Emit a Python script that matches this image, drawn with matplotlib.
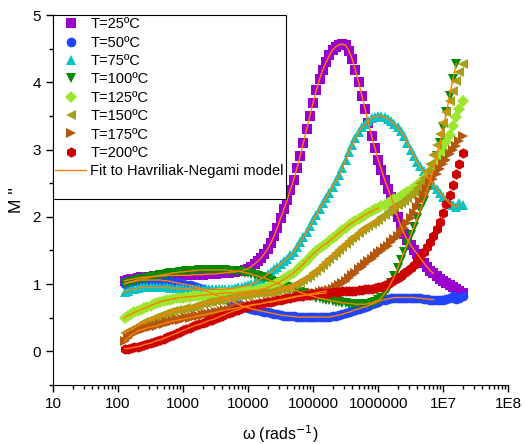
import matplotlib
matplotlib.use("Agg")
import matplotlib.pyplot as plt
from matplotlib.lines import Line2D
from matplotlib.ticker import FixedLocator, FixedFormatter, LogLocator, MultipleLocator, NullFormatter
import numpy as np

plt.rcParams['font.family'] = ['Liberation Sans', 'DejaVu Sans']

# log10 of angular frequency (rad/s) of the measured points
log_omega = [2.10, 2.15, 2.20, 2.25, 2.30, 2.35, 2.40, 2.45, 2.50, 2.55,
             2.60, 2.65, 2.70, 2.75, 2.80, 2.85, 2.90, 2.95, 3.00, 3.05,
             3.10, 3.15, 3.20, 3.25, 3.30, 3.35, 3.40, 3.45, 3.50, 3.55,
             3.60, 3.65, 3.70, 3.75, 3.80, 3.85, 3.90, 3.95, 4.00, 4.05,
             4.10, 4.15, 4.20, 4.25, 4.30, 4.35, 4.40, 4.45, 4.50, 4.55,
             4.60, 4.65, 4.70, 4.75, 4.80, 4.85, 4.90, 4.95, 5.00, 5.05,
             5.10, 5.15, 5.20, 5.25, 5.30, 5.35, 5.40, 5.45, 5.50, 5.55,
             5.60, 5.65, 5.70, 5.75, 5.80, 5.85, 5.90, 5.95, 6.00, 6.05,
             6.10, 6.15, 6.20, 6.25, 6.30, 6.35, 6.40, 6.45, 6.50, 6.55,
             6.60, 6.65, 6.70, 6.75, 6.80, 6.85, 6.90, 6.95, 7.00, 7.05,
             7.10, 7.15, 7.20, 7.25, 7.30]

# M'' for each temperature
m_25 = [1.05, 1.06, 1.07, 1.08, 1.09, 1.10, 1.10, 1.11, 1.11, 1.12,
        1.12, 1.12, 1.12, 1.13, 1.13, 1.13, 1.13, 1.13, 1.13, 1.13,
        1.13, 1.14, 1.14, 1.14, 1.14, 1.15, 1.15, 1.15, 1.15, 1.16,
        1.16, 1.17, 1.17, 1.18, 1.18, 1.19, 1.19, 1.21, 1.23, 1.26,
        1.30, 1.34, 1.39, 1.45, 1.52, 1.61, 1.72, 1.84, 1.98, 2.11,
        2.25, 2.40, 2.55, 2.72, 2.90, 3.10, 3.30, 3.50, 3.70, 3.88,
        4.05, 4.19, 4.30, 4.40, 4.48, 4.53, 4.56, 4.57, 4.55, 4.47,
        4.35, 4.18, 4.00, 3.80, 3.60, 3.40, 3.20, 3.02, 2.85, 2.70,
        2.55, 2.42, 2.30, 2.15, 2.00, 1.87, 1.75, 1.66, 1.58, 1.51,
        1.45, 1.38, 1.32, 1.26, 1.20, 1.16, 1.12, 1.08, 1.05, 1.01,
        0.98, 0.95, 0.92, 0.89, 0.87]
m_50 = [1.00, 1.02, 1.03, 1.04, 1.05, 1.06, 1.06, 1.06, 1.06, 1.06,
        1.06, 1.06, 1.05, 1.05, 1.04, 1.03, 1.02, 1.01, 1.00, 0.99,
        0.98, 0.97, 0.95, 0.94, 0.92, 0.90, 0.88, 0.86, 0.84, 0.82,
        0.80, 0.78, 0.76, 0.74, 0.72, 0.70, 0.68, 0.66, 0.65, 0.63,
        0.62, 0.61, 0.60, 0.59, 0.58, 0.57, 0.56, 0.55, 0.54, 0.53,
        0.53, 0.52, 0.52, 0.51, 0.51, 0.51, 0.51, 0.51, 0.51, 0.51,
        0.51, 0.51, 0.51, 0.51, 0.52, 0.53, 0.54, 0.55, 0.57, 0.58,
        0.60, 0.62, 0.63, 0.65, 0.66, 0.68, 0.70, 0.72, 0.74, 0.76,
        0.77, 0.78, 0.79, 0.80, 0.80, 0.80, 0.80, 0.80, 0.80, 0.80,
        0.79, 0.79, 0.78, 0.78, 0.77, 0.77, 0.76, 0.76, 0.76, 0.78,
        0.80, 0.82, 0.78, 0.80, 0.83]
m_75 = [0.88, 0.90, 0.92, 0.93, 0.94, 0.95, 0.95, 0.95, 0.95, 0.95,
        0.95, 0.95, 0.95, 0.95, 0.94, 0.94, 0.94, 0.93, 0.93, 0.93,
        0.93, 0.92, 0.92, 0.92, 0.92, 0.92, 0.92, 0.92, 0.92, 0.92,
        0.92, 0.92, 0.93, 0.93, 0.94, 0.95, 0.96, 0.97, 0.98, 1.00,
        1.02, 1.05, 1.08, 1.11, 1.15, 1.18, 1.22, 1.26, 1.30, 1.34,
        1.38, 1.43, 1.48, 1.55, 1.62, 1.70, 1.78, 1.86, 1.95, 2.03,
        2.12, 2.20, 2.28, 2.36, 2.45, 2.53, 2.62, 2.73, 2.85, 2.96,
        3.07, 3.17, 3.26, 3.33, 3.38, 3.43, 3.47, 3.49, 3.50, 3.50,
        3.48, 3.46, 3.42, 3.38, 3.33, 3.27, 3.20, 3.10, 3.00, 2.91,
        2.82, 2.75, 2.68, 2.61, 2.55, 2.48, 2.42, 2.36, 2.30, 2.25,
        2.20, 2.17, 2.15, 2.20, 2.18]
m_100 = [1.00, 1.02, 1.03, 1.05, 1.06, 1.07, 1.08, 1.09, 1.10, 1.11,
         1.12, 1.13, 1.14, 1.15, 1.16, 1.17, 1.17, 1.18, 1.18, 1.19,
         1.19, 1.20, 1.20, 1.21, 1.21, 1.21, 1.21, 1.21, 1.21, 1.21,
         1.21, 1.21, 1.20, 1.20, 1.19, 1.19, 1.18, 1.17, 1.16, 1.15,
         1.13, 1.12, 1.10, 1.09, 1.07, 1.05, 1.03, 1.01, 0.99, 0.97,
         0.95, 0.93, 0.92, 0.90, 0.88, 0.86, 0.85, 0.83, 0.82, 0.80,
         0.79, 0.78, 0.77, 0.76, 0.75, 0.74, 0.73, 0.72, 0.72, 0.71,
         0.71, 0.70, 0.70, 0.70, 0.70, 0.71, 0.72, 0.74, 0.76, 0.80,
         0.86, 0.93, 1.02, 1.12, 1.24, 1.36, 1.48, 1.60, 1.73, 1.85,
         1.98, 2.11, 2.24, 2.38, 2.54, 2.71, 2.90, 3.10, 3.33, 3.56,
         3.80, 4.05, 4.28]
m_125 = [0.50, 0.53, 0.55, 0.58, 0.60, 0.62, 0.64, 0.66, 0.68, 0.70,
         0.72, 0.74, 0.75, 0.76, 0.77, 0.78, 0.79, 0.80, 0.80, 0.81,
         0.81, 0.82, 0.82, 0.83, 0.83, 0.84, 0.84, 0.85, 0.85, 0.86,
         0.86, 0.87, 0.87, 0.87, 0.87, 0.88, 0.88, 0.89, 0.89, 0.90,
         0.90, 0.91, 0.92, 0.93, 0.95, 0.97, 0.99, 1.01, 1.04, 1.07,
         1.10, 1.13, 1.17, 1.21, 1.25, 1.30, 1.35, 1.40, 1.45, 1.49,
         1.53, 1.57, 1.60, 1.64, 1.68, 1.72, 1.76, 1.80, 1.84, 1.88,
         1.91, 1.94, 1.97, 2.00, 2.03, 2.06, 2.08, 2.11, 2.13, 2.16,
         2.18, 2.21, 2.23, 2.26, 2.28, 2.31, 2.34, 2.37, 2.40, 2.43,
         2.47, 2.51, 2.56, 2.61, 2.67, 2.74, 2.82, 2.91, 3.00, 3.11,
         3.22, 3.35, 3.48, 3.60, 3.72]
m_150 = [0.27, 0.30, 0.32, 0.35, 0.38, 0.41, 0.43, 0.45, 0.47, 0.49,
         0.51, 0.53, 0.55, 0.57, 0.58, 0.60, 0.61, 0.62, 0.63, 0.64,
         0.65, 0.66, 0.67, 0.69, 0.70, 0.72, 0.73, 0.74, 0.75, 0.76,
         0.77, 0.78, 0.79, 0.80, 0.81, 0.82, 0.83, 0.84, 0.84, 0.85,
         0.85, 0.86, 0.86, 0.87, 0.87, 0.88, 0.89, 0.90, 0.91, 0.93,
         0.94, 0.96, 0.98, 1.00, 1.03, 1.06, 1.09, 1.12, 1.16, 1.20,
         1.24, 1.28, 1.33, 1.37, 1.42, 1.46, 1.51, 1.55, 1.60, 1.64,
         1.68, 1.72, 1.76, 1.80, 1.83, 1.87, 1.90, 1.93, 1.96, 2.00,
         2.03, 2.07, 2.10, 2.14, 2.17, 2.21, 2.24, 2.28, 2.32, 2.37,
         2.43, 2.50, 2.58, 2.68, 2.79, 2.92, 3.07, 3.23, 3.40, 3.56,
         3.72, 3.87, 4.02, 4.15, 4.27]
m_175 = [0.15, 0.20, 0.24, 0.27, 0.30, 0.32, 0.33, 0.35, 0.36, 0.37,
         0.38, 0.40, 0.41, 0.43, 0.44, 0.45, 0.46, 0.47, 0.48, 0.49,
         0.50, 0.51, 0.52, 0.53, 0.54, 0.55, 0.56, 0.57, 0.58, 0.59,
         0.60, 0.61, 0.62, 0.63, 0.64, 0.65, 0.66, 0.67, 0.68, 0.69,
         0.70, 0.70, 0.71, 0.72, 0.73, 0.73, 0.74, 0.75, 0.76, 0.77,
         0.78, 0.79, 0.80, 0.81, 0.82, 0.83, 0.84, 0.85, 0.86, 0.87,
         0.88, 0.89, 0.90, 0.91, 0.93, 0.95, 0.98, 1.01, 1.05, 1.09,
         1.13, 1.17, 1.22, 1.26, 1.30, 1.34, 1.38, 1.42, 1.46, 1.49,
         1.53, 1.57, 1.62, 1.67, 1.72, 1.78, 1.84, 1.91, 1.98, 2.06,
         2.14, 2.23, 2.32, 2.41, 2.50, 2.57, 2.64, 2.71, 2.78, 2.85,
         2.93, 3.00, 3.06, 3.13, 3.20]
m_200 = [0.04, 0.04, 0.05, 0.06, 0.07, 0.08, 0.10, 0.11, 0.12, 0.14,
         0.16, 0.17, 0.19, 0.21, 0.23, 0.25, 0.27, 0.29, 0.31, 0.33,
         0.35, 0.37, 0.39, 0.40, 0.42, 0.44, 0.46, 0.47, 0.49, 0.51,
         0.53, 0.55, 0.57, 0.59, 0.61, 0.62, 0.64, 0.66, 0.67, 0.68,
         0.69, 0.70, 0.71, 0.72, 0.73, 0.74, 0.75, 0.76, 0.77, 0.78,
         0.79, 0.80, 0.81, 0.82, 0.83, 0.83, 0.84, 0.84, 0.85, 0.85,
         0.86, 0.86, 0.87, 0.87, 0.88, 0.88, 0.88, 0.89, 0.89, 0.89,
         0.90, 0.90, 0.91, 0.91, 0.92, 0.92, 0.93, 0.94, 0.95, 0.96,
         0.98, 1.00, 1.03, 1.06, 1.09, 1.12, 1.16, 1.20, 1.24, 1.29,
         1.35, 1.41, 1.48, 1.55, 1.63, 1.72, 1.82, 1.93, 2.05, 2.19,
         2.33, 2.48, 2.63, 2.79, 2.95]

labels = ["T=25ºC", "T=50ºC", "T=75ºC", "T=100ºC",
          "T=125ºC", "T=150ºC", "T=175ºC", "T=200ºC"]
# upper end (log10 omega) of each Havriliak-Negami fit curve
fit_end = [6.85, 6.85, 7.25, 7.20, 6.0, 6.0, 5.2, 5.2]

x_ticks = [10, 100, 1000, 10000, 100000, 1000000, 1e7, 1e8]
x_tick_labels = ["10", "100", "1000", "10000", "100000", "1000000", "1E7", "1E8"]

series = [m_25, m_50, m_75, m_100, m_125, m_150, m_175, m_200]
colors = ["#9900CC", "#2244FF", "#00C4C4", "#008A00",
          "#9EE62E", "#A89E18", "#B4560E", "#CC0000"]
markers = ["s", "o", "^", "v", "D", "<", ">", "h"]
msizes = [6.5, 7, 7, 7, 6, 7, 7, 7.5]

fig = plt.figure(figsize=(5.25, 4.44), dpi=100)
ax = fig.add_axes([0.101, 0.133, 0.867, 0.833])

handles = []
for vals, col, mk, ms, lab in zip(series, colors, markers, msizes, labels):
    w = 10 ** np.array(log_omega[:len(vals)])
    h, = ax.plot(w, vals, linestyle="none", marker=mk, ms=ms,
                 color=col, markeredgewidth=0, label=lab)
    handles.append(h)

fit_color = "#FF8000"
for vals, end in zip(series, fit_end):
    lw_ = np.array(log_omega[:len(vals)])
    keep = lw_ <= end + 1e-9
    fit, = ax.plot(10 ** lw_[keep], np.array(vals)[keep], color=fit_color, lw=1.0)
fit.set_label("Fit to Havriliak-Negami model")
handles.append(fit)
# empty last row, the original legend box has some room below the fit entry
handles.append(Line2D([], [], linestyle="none", label=""))

ax.set_xscale("log")
ax.set_xlim(10, 1e8)
ax.set_ylim(-0.5, 5)
ax.xaxis.set_major_locator(FixedLocator(x_ticks))
ax.xaxis.set_major_formatter(FixedFormatter(x_tick_labels))
ax.xaxis.set_minor_locator(LogLocator(base=10, subs=np.arange(2, 10)))
ax.xaxis.set_minor_formatter(NullFormatter())
ax.yaxis.set_major_locator(FixedLocator([0, 1, 2, 3, 4, 5]))
ax.yaxis.set_minor_locator(MultipleLocator(0.5))

for s in ["top", "right"]:
    ax.spines[s].set_visible(False)
ax.tick_params(which="major", direction="out", length=5, width=1, labelsize=11)
ax.tick_params(which="minor", direction="out", length=3, width=1)

ax.set_xlabel("ω (rads$^{-1}$)", fontsize=11.5, labelpad=9)
ax.set_ylabel("M ''", fontsize=12.5, labelpad=6)

leg = ax.legend(handles=handles, loc="upper left", bbox_to_anchor=(0.0, 1.0),
                fontsize=10.5, frameon=True, fancybox=False, framealpha=1,
                edgecolor="black", borderpad=0.15, labelspacing=0.3,
                handlelength=2.1, handletextpad=0.3, borderaxespad=0)
leg.get_frame().set_linewidth(0.8)

fig.savefig("out.png", dpi=100)
